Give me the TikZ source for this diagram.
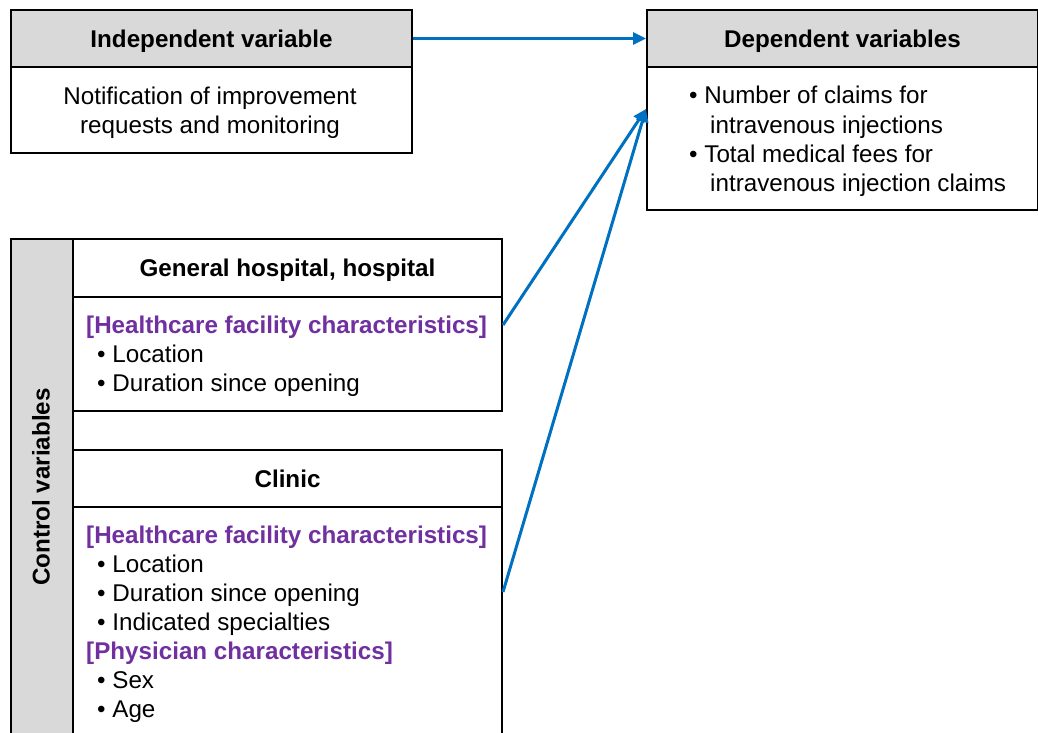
\documentclass[tikz,border=0pt]{standalone}
\usepackage{fontspec}
\setmainfont{Liberation Sans}
\usetikzlibrary{arrows.meta,calc}
\definecolor{hdr}{HTML}{D9D9D9}
\definecolor{purp}{HTML}{7030A0}
\definecolor{arr}{HTML}{0070C0}
\begin{document}
\begin{tikzpicture}[x=1pt,y=-1pt,
  font=\fontsize{24.2}{29}\selectfont,
  box/.style={draw=black,line width=2pt,anchor=north west,inner sep=0pt},
  bold/.style={font=\fontsize{24.2}{29}\selectfont\bfseries},
  head/.style={box,fill=hdr,bold,text depth=0pt},
  txt/.style={anchor=base west,inner sep=0pt},
  cat/.style={txt,text=purp,bold},
  link/.style={draw=arr,line width=3pt,-{Triangle[length=13pt,width=12pt]}}]
\useasboundingbox (0,0) rectangle (1038,733);
\clip (0,0) rectangle (1038,733);
% independent
\node[head,minimum width=401pt,minimum height=57pt] (ih) at (10,9) {Independent variable};
\node[box,minimum width=401pt,minimum height=86pt] (ib) at (10,66) {};
\node[align=center,inner sep=0pt] (ibt) at (210,113) {Notification of improvement\\requests and monitoring};
% dependent
\node[head,minimum width=391pt,minimum height=57pt] (dh) at (646,9) {Dependent variables};
\node[box,minimum width=391pt,minimum height=143pt] (db) at (646,66) {};
\node[txt] (d1) at (689,103) {• Number of claims for};
\node[txt] (d2) at (710,133) {intravenous injections};
\node[txt] (d3) at (689,162) {• Total medical fees for};
\node[txt] (d4) at (710,191) {intravenous injection claims};
% control column
\node[box,fill=hdr,minimum width=62pt,minimum height=530pt] (cv) at (10,238) {};
\node[rotate=90,bold,inner sep=0pt] (cvl) at (41,487) {Control variables};
% general hospital
\node[box,bold,text depth=0pt,minimum width=429pt,minimum height=58pt] (gh) at (72,238) {General hospital, hospital};
\node[box,minimum width=429pt,minimum height=114pt] (gb) at (72,296) {};
\node[cat] (g1) at (86,333) {[Healthcare facility characteristics]};
\node[txt] (g2) at (97,362) {• Location};
\node[txt] (g3) at (97,391) {• Duration since opening};
% clinic
\node[box,bold,text depth=0pt,minimum width=429pt,minimum height=57pt] (ch) at (72,449) {Clinic};
\node[box,minimum width=429pt,minimum height=262pt] (cb) at (72,506) {};
\node[cat] (c1) at (86,543) {[Healthcare facility characteristics]};
\node[txt] (c2) at (97,572) {• Location};
\node[txt] (c3) at (97,601) {• Duration since opening};
\node[txt] (c4) at (97,630) {• Indicated specialties};
\node[cat] (c5) at (86,659) {[Physician characteristics]};
\node[txt] (c6) at (97,688) {• Sex};
\node[txt] (c7) at (97,717) {• Age};
% connectors
\coordinate (tip) at ($(db.north west)+(0,43)$);
\coordinate (gs) at ($(gb.north east)+(0,29)$);
\coordinate (cs) at ($(cb.north east)+(0,86)$);
\draw[link] (ih.east) -- (dh.west);
\draw[link] (gs) -- (tip);
\draw[link] (cs) -- (tip);
\end{tikzpicture}
\end{document}
